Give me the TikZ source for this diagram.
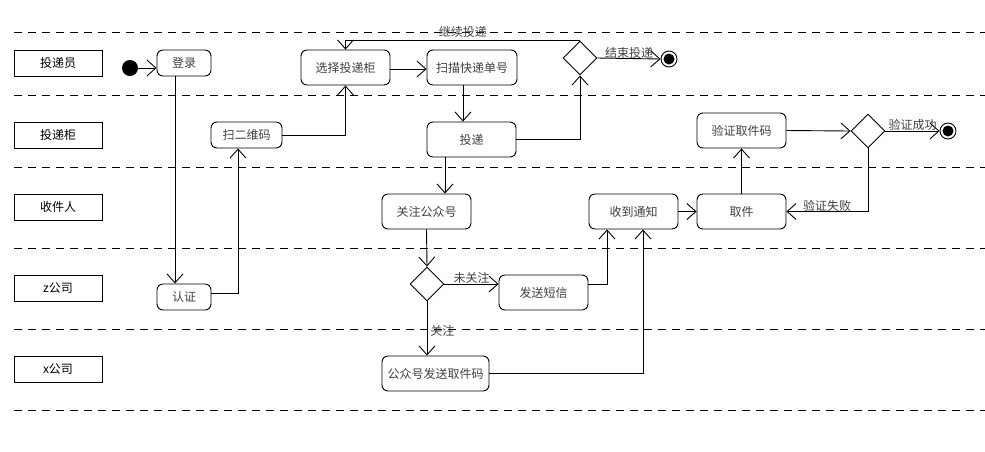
\documentclass[tikz,border=0pt]{standalone}
\usepackage{fontspec}
\setmainfont{Noto Sans CJK SC}
\usetikzlibrary{arrows.meta,shapes.geometric}
\begin{document}
\begin{tikzpicture}[x=1pt,y=-1pt,
  font=\fontsize{12}{14}\selectfont,
  line width=0.9pt,
  act/.style={draw, rounded corners=6pt, text=black!75, inner sep=0pt},
  lane/.style={draw, minimum width=88pt, minimum height=26pt, inner sep=0pt},
  dec/.style={draw, diamond, minimum width=34pt, minimum height=34pt, inner sep=0pt},
  arr/.style={-{Straight Barb[length=9pt,width=16pt,line width=0.9pt]}},
  sep/.style={dash pattern=on 8pt off 6pt, line width=0.9pt},
  lbl/.style={text=black!75, inner sep=1pt}]
\useasboundingbox (0,0) rectangle (985,451);
% swimlane separators
\foreach \yy in {32,95,167,248,329,410} \draw[sep] (14,\yy) -- (985,\yy);
% lane labels
\node[lane] (l1) at (58,63) {投递员};
\node[lane] (l2) at (58,135) {投递柜};
\node[lane] (l3) at (58,207) {收件人};
\node[lane] (l4) at (58,288) {z公司};
\node[lane] (l5) at (58,369) {x公司};
% start / ends
\node[circle, fill=black, minimum size=16pt, inner sep=0pt] (st) at (130,68) {};
\node[circle, draw, minimum size=16pt, inner sep=0pt] (e1) at (669,59) {};
\fill (e1.center) circle (5.5pt);
\node[circle, draw, minimum size=16pt, inner sep=0pt] (e2) at (948,131) {};
\fill (e2.center) circle (5.5pt);
% activities
\node[act, minimum width=54pt, minimum height=26pt] (dl) at (184,63) {登录};
\node[act, minimum width=89pt, minimum height=35pt] (xz) at (345.5,67.5) {选择投递柜};
\node[act, minimum width=90pt, minimum height=35pt] (sm) at (472,67.5) {扫描快递单号};
\node[dec] (d1) at (580,58) {};
\node[act, minimum width=71pt, minimum height=26pt] (ew) at (246.5,135) {扫二维码};
\node[act, minimum width=89pt, minimum height=35pt] (td) at (471.5,139.5) {投递};
\node[act, minimum width=89pt, minimum height=35pt] (yz) at (741.5,130.5) {验证取件码};
\node[dec] (d2) at (868,131) {};
\node[act, minimum width=89pt, minimum height=35pt] (gz) at (426.5,211.5) {关注公众号};
\node[act, minimum width=89pt, minimum height=35pt] (sd) at (633.5,211.5) {收到通知};
\node[act, minimum width=89pt, minimum height=35pt] (qj) at (741.5,211.5) {取件};
\node[act, minimum width=54pt, minimum height=26pt] (rz) at (184,297) {认证};
\node[dec] (d3) at (427,284) {};
\node[act, minimum width=89pt, minimum height=35pt] (fs) at (543.5,292.5) {发送短信};
\node[act, minimum width=107pt, minimum height=35pt] (gf) at (435.5,373.5) {公众号发送取件码};
% connectors
\draw[arr] (st) -- (st -| dl.west);
\draw[arr] ([xshift=-9pt]dl.south) -- ([xshift=-9pt]rz.north);
\draw[arr] ([yshift=4pt]rz.east) -| ([xshift=-8.5pt]ew.south);
\draw[arr] (ew.east) -| (xz.south);
\draw[arr] ([yshift=-1.5pt]xz.east) -- ([yshift=-1.5pt]sm.west);
\draw[arr] ([xshift=-9pt]sm.south) -- ([xshift=-9pt]sm.south |- td.north);
\draw[arr] (td.east) -| (d1.south);
\draw[arr] (d1.north) -| node[lbl, pos=0.25, above=2pt] {继续投递} (xz.north);
\draw[arr] (d1.east) -- node[lbl, above=-1pt] {结束投递} (e1.west);
\draw[arr] ([xshift=-26.5pt]td.south) -- ([xshift=18.5pt]gz.north);
\draw[arr] (gz.south) -- (d3.north);
\draw[arr] (d3.east) -- node[lbl, above=-1pt] {未关注} (d3.east -| fs.west);
\draw[arr] (d3.south) -- node[lbl, pos=0.55, right=2pt] {关注} (d3.south |- gf.north);
\draw[arr] ([yshift=8.5pt]fs.east) -| ([xshift=-26.5pt]sd.south);
\draw[arr] (gf.east) -| ([xshift=9.5pt]sd.south);
\draw[arr] (sd.east) -- (qj.west);
\draw[arr] (qj.north) -- (yz.south);
\draw[arr] (yz.east) -- (d2.west);
\draw[arr] (d2.east) -- node[lbl, above=-1pt] {验证成功} (e2.west);
\draw[arr] (d2.south) |- node[lbl, pos=0.75, above=-1pt] {验证失败} (qj.east);
\end{tikzpicture}
\end{document}
